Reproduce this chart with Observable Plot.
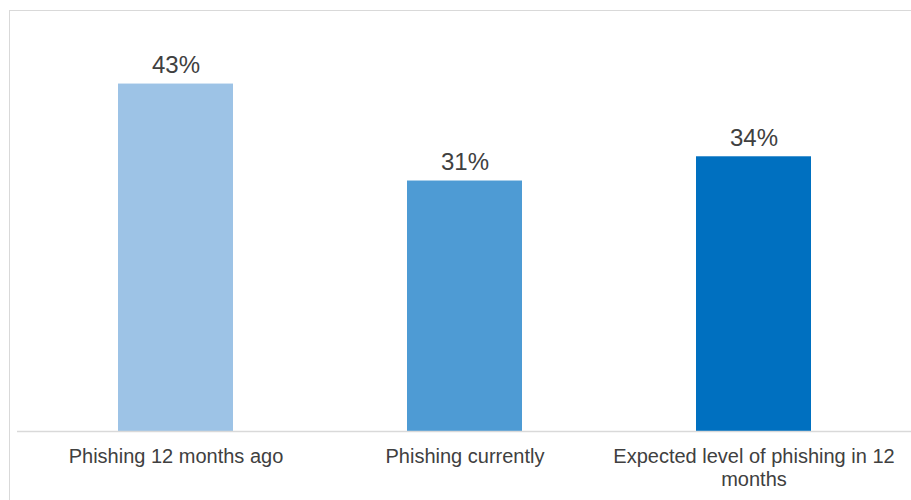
<!DOCTYPE html>
<html>
<head>
<meta charset="utf-8">
<script src="https://cdn.jsdelivr.net/npm/d3@7"></script>
<script src="https://cdn.jsdelivr.net/npm/@observablehq/plot@0.6"></script>
<style>
  html, body { margin: 0; padding: 0; background: #fff; overflow: hidden; }
  #wrap { position: relative; width: 911px; height: 500px; }
  #border { position: absolute; left: 9px; top: 10px; width: 1000px; height: 1000px; border: 1px solid #d9d9d9; box-sizing: border-box; }
  #chart { position: absolute; left: 0; top: 0; }
</style>
</head>
<body>
<div id="wrap"><div id="border"></div><div id="chart"></div></div>
<script>
const categories = ["Phishing 12 months ago", "Phishing currently", "Expected level of phishing in 12 months"];
const tickLabels = ["Phishing 12 months ago", "Phishing currently", "Expected level of phishing in 12\nmonths"];
const values = [43, 31, 34];
const colors = ["#9DC3E6", "#4E9BD4", "#0070C0"];

const data = categories.map((c, i) => ({category: c, value: values[i], label: values[i] + "%"}));
const labelMap = new Map(categories.map((c, i) => [c, tickLabels[i]]));

const chart = Plot.plot({
  width: 911,
  height: 500,
  marginLeft: 17,
  marginRight: 0,
  marginTop: 27,
  marginBottom: 69,
  style: {background: "transparent", fontFamily: "Liberation Sans, Arial, sans-serif"},
  x: {domain: categories, paddingInner: 0.603, paddingOuter: 0.345, label: null},
  y: {domain: [0, 50], axis: null},
  color: {domain: categories, range: colors},
  marks: [
    Plot.barY(data, {x: "category", y: "value", fill: "category"}),
    Plot.ruleY([0], {stroke: "#d9d9d9", strokeWidth: 1.5}),
    Plot.text(data, {x: "category", y: "value", text: "label", dy: -11, lineAnchor: "bottom",
      fontSize: 24, fill: "#404040"}),
    Plot.axisX({tickSize: 0, tickPadding: 15, fontSize: 20, color: "#404040", lineHeight: 1.15,
      tickFormat: d => labelMap.get(d), label: null})
  ]
});
document.getElementById("chart").appendChild(chart);
</script>
</body>
</html>
